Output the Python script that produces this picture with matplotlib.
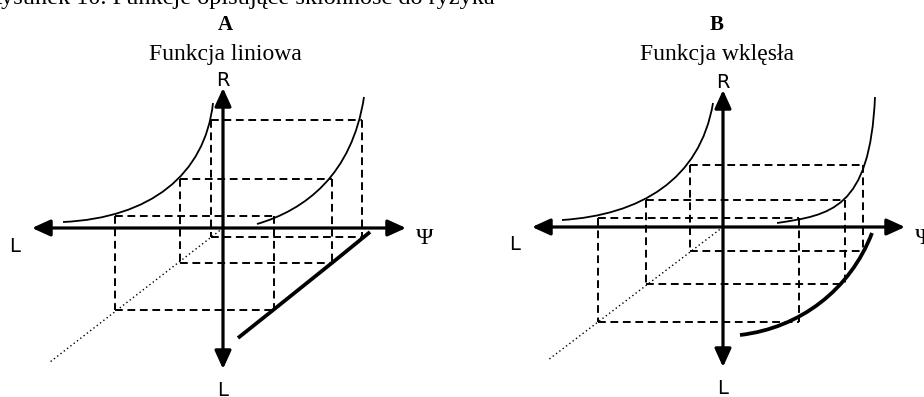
import matplotlib
matplotlib.use('Agg')
import matplotlib.pyplot as plt
from matplotlib.path import Path
from matplotlib.patches import PathPatch

# Figure is drawn in pixel coordinates of the 924x397 picture
W, H = 924, 397

# Headings
fig_title = 'Rysunek 10. Funkcje opisujące skłonność do ryzyka'
panel_letters = ['A', 'B']
panel_titles = ['Funkcja liniowa', 'Funkcja wklęsła']
title_x = [225, 717]

# Axes of each panel (origin and arrow tips)
origin_x = [223, 723]
origin_y = [228, 227]
axis_left = [32, 532]
axis_right = [406, 905]
axis_top = [88, 90]
axis_bottom = [369, 367]

# Dotted 45-degree helper line, end point away from the origin
dotted_end = [(50, 362), (548, 360)]

# Curves (cubic Bezier control points)
upper_left = [
    [(63, 222), (150, 218), (205, 175), (213, 103)],
    [(562, 220), (640, 215), (700, 180), (713, 103)],
]
upper_right = [
    [(257, 224), (305, 210), (352, 175), (364, 97)],
    [(777, 223), (830, 215), (870, 210), (875, 97)],
]
lower_right = [
    [(238, 338), (282, 303), (326, 268), (370, 232)],   # linear
    [(740, 335), (800, 328), (850, 290), (872, 233)],   # concave
]

# Dashed construction rectangles: R level, left x, right x, lower level
level_r = [[120, 179, 216], [165, 200, 218]]
level_xl = [[211, 180, 115], [690, 646, 598]]
level_xp = [[362, 332, 274], [863, 845, 799]]
level_d = [[237, 263, 310], [251, 284, 322]]

fig = plt.figure(figsize=(W / 100, H / 100), dpi=100)
ax = fig.add_axes([0, 0, 1, 1])
ax.set_xlim(0, W)
ax.set_ylim(H, 0)
ax.axis('off')

serif = 'Liberation Serif'
sans = 'DejaVu Sans'

# caption is cut off by the top edge in the original
ax.text(495, 4, fig_title, ha='right', va='baseline', family=serif,
        fontsize=17.5, clip_on=False)

dash = (0, (4, 2.4))


def bezier(pts, lw):
    codes = [Path.MOVETO, Path.CURVE4, Path.CURVE4, Path.CURVE4]
    ax.add_patch(PathPatch(Path(pts, codes), fill=False, lw=lw,
                           edgecolor='black', capstyle='butt'))


for i in range(2):
    ax.text(title_x[i], 30, panel_letters[i], ha='center', va='baseline',
            family=serif, fontweight='bold', fontsize=15)
    ax.text(title_x[i], 60, panel_titles[i], ha='center', va='baseline',
            family=serif, fontsize=17)

    # dashed construction lines
    for yr, xl, xp, yd in zip(level_r[i], level_xl[i], level_xp[i], level_d[i]):
        ax.hlines(yr, xl, xp, colors='black', lw=1.4, linestyles=dash)
        ax.vlines([xl, xp], yr, yd, colors='black', lw=1.4, linestyles=dash)
        ax.hlines(yd, xl, xp, colors='black', lw=1.4, linestyles=dash)

    # dotted diagonal
    ax.plot([origin_x[i], dotted_end[i][0]], [origin_y[i], dotted_end[i][1]],
            color='black', lw=1.0, linestyle=(0, (1, 2)))

    # curves
    bezier(upper_left[i], 1.3)
    bezier(upper_right[i], 1.3)
    bezier(lower_right[i], 2.7)

    # axes with arrow heads
    arrow = dict(arrowstyle='<|-|>,head_length=1.1,head_width=0.5',
                 lw=2.3, color='black', shrinkA=0, shrinkB=0)
    ax.annotate('', xy=(axis_left[i], origin_y[i]),
                xytext=(axis_right[i], origin_y[i]), arrowprops=arrow)
    ax.annotate('', xy=(origin_x[i], axis_top[i]),
                xytext=(origin_x[i], axis_bottom[i]), arrowprops=arrow)

    # axis labels
    ax.text(origin_x[i], axis_top[i] - 8, 'R', ha='center', va='center',
            family=sans, fontsize=14)
    ax.text(axis_left[i] - 17, origin_y[i] + 18, 'L', ha='center', va='center',
            family=sans, fontsize=14)
    ax.text(axis_right[i] + 19, origin_y[i] + 11, 'Ψ', ha='center', va='center',
            family=serif, fontsize=17)
    ax.text(origin_x[i], axis_bottom[i] + 22, 'L', ha='center', va='center',
            family=sans, fontsize=14)

fig.savefig('out.png', dpi=100)
